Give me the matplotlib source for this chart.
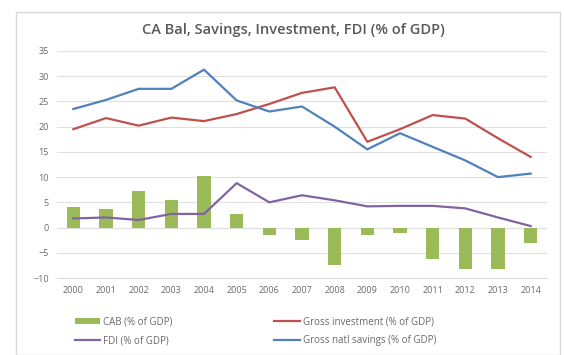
import numpy as np
import matplotlib.pyplot as plt
from matplotlib.patches import Rectangle

years = [str(y) for y in range(2000, 2015)]
cab = [4.0, 3.6, 7.2, 5.4, 10.3, 2.6, -1.5, -2.5, -7.4, -1.5, -1.0, -6.3, -8.2, -8.2, -3.0]
investment = [19.5, 21.7, 20.2, 21.8, 21.1, 22.5, 24.5, 26.7, 27.8, 17.0, 19.5, 22.3, 21.6, 17.7, 14.0]
fdi = [1.8, 2.0, 1.5, 2.7, 2.7, 8.8, 5.0, 6.4, 5.4, 4.2, 4.3, 4.3, 3.8, 2.0, 0.3]
savings = [23.5, 25.3, 27.5, 27.5, 31.3, 25.2, 23.0, 24.0, 20.0, 15.5, 18.7, 16.0, 13.3, 10.0, 10.7]

plt.rcParams['font.family'] = ['Open Sans', 'DejaVu Sans']
txt = '#6a6a6a'

fig = plt.figure(figsize=(5.64, 3.55), dpi=100)
fig.patches.append(Rectangle((16 / 564, 0), 544 / 564, 343 / 355, transform=fig.transFigure,
                             fill=False, edgecolor='#d9d9d9', linewidth=1))
ax = fig.add_axes([57 / 564, 1 - 278 / 355, 490 / 564, 227 / 355])

x = np.arange(len(years))
ax.bar(x, cab, width=0.4, color='#9bbb59', label='CAB (% of GDP)', zorder=2)
ax.plot(x, investment, color='#c0504d', linewidth=1.6, label='Gross investment (% of GDP)', zorder=3)
ax.plot(x, fdi, color='#8064a2', linewidth=1.6, label='FDI (% of GDP)', zorder=3)
ax.plot(x, savings, color='#4f81bd', linewidth=1.6, label='Gross natl savings (% of GDP)', zorder=3)

ax.set_xlim(-0.5, len(years) - 0.5)
ax.set_ylim(-10, 35)
ax.set_yticks(range(-10, 36, 5))
ax.set_xticks(x)
ax.set_xticklabels(years)
ax.tick_params(axis='both', labelsize=6.5, colors=txt, length=0, pad=6)
ax.grid(axis='y', color='#e0e0e0', linewidth=0.8, zorder=0)
for s in ['top', 'right', 'left']:
    ax.spines[s].set_visible(False)
ax.spines['bottom'].set_color('#d9d9d9')
ax.axhline(0, color='#d9d9d9', linewidth=0.8, zorder=1)

fig.text(0.52, 1 - 30 / 355, 'CA Bal, Savings, Investment, FDI (% of GDP)', fontsize=10.5,
         color='#595959', fontweight='semibold', ha='center', va='center')

h, l = ax.get_legend_handles_labels()
order = [3, 1, 0, 2]
fig.legend([h[i] for i in order], [l[i] for i in order], loc='lower left', ncol=2,
           bbox_to_anchor=(66 / 564, 0.0), frameon=False, fontsize=7, labelcolor=txt,
           columnspacing=10.5, handlelength=2.6, handletextpad=0.3, labelspacing=0.8)

plt.savefig('out.png', dpi=100)
